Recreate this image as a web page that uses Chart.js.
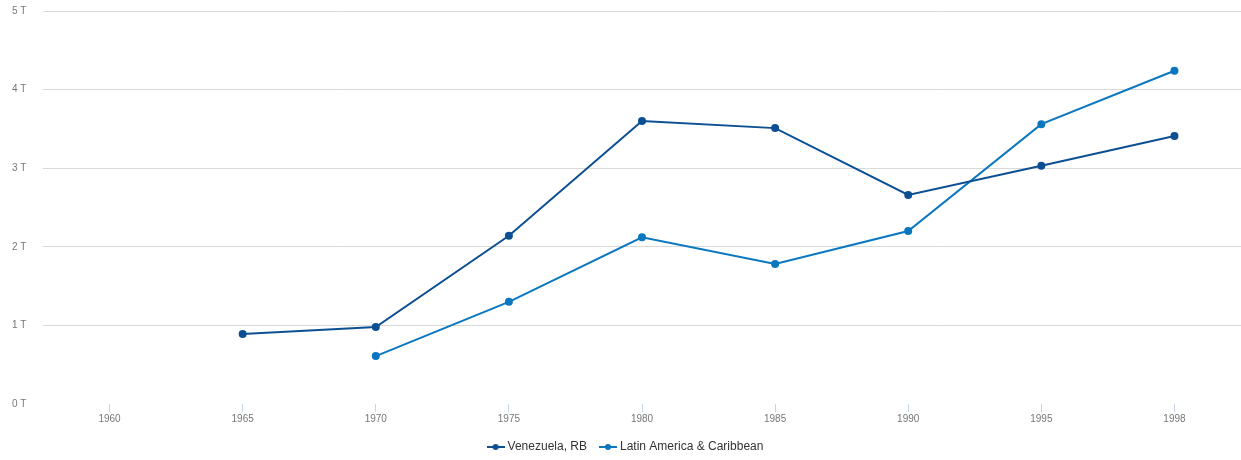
<!DOCTYPE html>
<html>
<head>
<meta charset="utf-8">
<script src="https://cdn.jsdelivr.net/npm/chart.js@4/dist/chart.umd.min.js"></script>
<style>
  html, body { margin: 0; padding: 0; background: #fff; overflow: hidden; }
  #wrap { width: 1241px; height: 460px; position: relative; }
</style>
</head>
<body>
<div id="wrap"><canvas id="c"></canvas></div>
<script>
// Years on the category axis
const years = ['1960', '1965', '1970', '1975', '1980', '1985', '1990', '1995', '1998'];
// Values in trillions
const venezuela = [null, 0.89, 0.98, 2.14, 3.60, 3.51, 2.66, 3.03, 3.41];
const latinAmerica = [null, null, 0.61, 1.30, 2.12, 1.78, 2.20, 3.56, 4.24];
const yTicks = [0, 1, 2, 3, 4, 5];

const colVen = '#0c4f92';
const colLac = '#0a77c0';

function legendIcon(color) {
  const cv = document.createElement('canvas');
  cv.width = 18; cv.height = 8;
  const g = cv.getContext('2d');
  g.strokeStyle = color; g.lineWidth = 2;
  g.beginPath(); g.moveTo(0, 4); g.lineTo(18, 4); g.stroke();
  g.fillStyle = color;
  g.beginPath(); g.arc(9, 4, 3, 0, Math.PI * 2); g.fill();
  return cv;
}

new Chart(document.getElementById('c'), {
  type: 'line',
  data: {
    labels: years,
    datasets: [
      {
        label: 'Venezuela, RB',
        data: venezuela.map(v => v === null ? null : v * 1e12),
        borderColor: colVen, backgroundColor: colVen,
        borderWidth: 2, pointRadius: 3, pointHoverRadius: 3,
        tension: 0, spanGaps: false
      },
      {
        label: 'Latin America & Caribbean',
        data: latinAmerica.map(v => v === null ? null : v * 1e12),
        borderColor: colLac, backgroundColor: colLac,
        borderWidth: 2, pointRadius: 3, pointHoverRadius: 3,
        tension: 0, spanGaps: false
      }
    ]
  },
  options: {
    responsive: true,
    maintainAspectRatio: false,
    animation: false,
    layout: { autoPadding: false, padding: { left: 12, right: 0, top: 11, bottom: -3 } },
    plugins: {
      tooltip: { enabled: false },
      legend: {
        position: 'bottom',
        labels: {
          font: { family: 'Liberation Sans, Arial, sans-serif', size: 12 },
          color: '#333',
          usePointStyle: true,
          padding: 15,
          generateLabels(chart) {
            return chart.data.datasets.map((ds, i) => ({
              text: ds.label,
              pointStyle: legendIcon(ds.borderColor),
              fillStyle: ds.borderColor,
              strokeStyle: ds.borderColor,
              lineWidth: 0,
              fontColor: '#333',
              datasetIndex: i,
              hidden: false
            }));
          }
        }
      }
    },
    scales: {
      x: {
        offset: true,
        border: { display: false },
        grid: {
          drawOnChartArea: false,
          drawTicks: true,
          tickLength: 8,
          color: '#c8d6e6',
          offset: false
        },
        ticks: {
          color: '#777',
          font: { family: 'Liberation Sans, Arial, sans-serif', size: 10 },
          padding: 1,
          maxRotation: 0,
          autoSkip: false
        }
      },
      y: {
        min: 0, max: 5e12,
        border: { display: false },
        afterBuildTicks(axis) { axis.ticks = yTicks.map(v => ({ value: v * 1e12 })); },
        afterFit(axis) { axis.width = 31; },
        grid: {
          drawTicks: false,
          color: ctx => ctx.tick && ctx.tick.value === 0 ? 'rgba(0,0,0,0)' : '#d9d9d9',
          lineWidth: 1
        },
        ticks: {
          color: '#777',
          font: { family: 'Liberation Sans, Arial, sans-serif', size: 10 },
          padding: 0,
          crossAlign: 'far',
          callback: v => (v / 1e12) + ' T'
        }
      }
    }
  }
});
</script>
</body>
</html>
